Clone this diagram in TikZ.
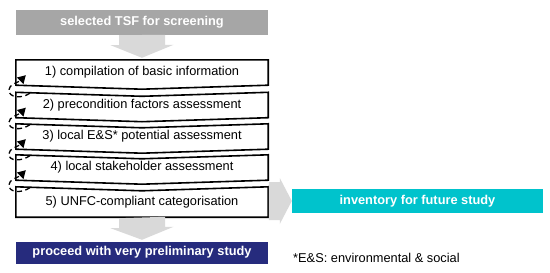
\documentclass[tikz,border=0pt]{standalone}
\usepackage{fontspec}
\setmainfont{Liberation Sans}
\usetikzlibrary{arrows.meta}

\definecolor{tsfgrey}{HTML}{A6A6A6}
\definecolor{arrowgrey}{HTML}{D9D9D9}
\definecolor{tsfcyan}{HTML}{00C3CC}
\definecolor{tsfnavy}{HTML}{262B7D}

\begin{document}
\begin{tikzpicture}[x=1pt,y=-1pt]
\tikzstyle{banner} = [rectangle, fill=tsfgrey, text=white, inner sep=0pt,
font=\bfseries\fontsize{12.8}{15}\selectfont, minimum width=252pt, minimum height=25pt]
\tikzstyle{stepbox} = [rectangle, inner sep=0pt, font=\fontsize{12.8}{15}\selectfont,
minimum width=252pt, minimum height=25pt]
\tikzstyle{outline} = [draw, line width=1.6pt, line join=miter]
\tikzstyle{flow} = [fill=arrowgrey];
\tikzstyle{back} = [draw, dash pattern=on 5pt off 3.5pt, line width=1.3pt,
-{Triangle[length=8pt,width=9pt]}];
\useasboundingbox (0,0) rectangle (550,273);
% input
\node [banner] (tsf) at (142,22.5) {selected TSF for screening};
% screening steps
\node [stepbox] (s1) at (142,72.5) {1) compilation of basic information};
\node [stepbox] (s2) at (142,105) {2) precondition factors assessment};
\node [stepbox] (s3) at (142,136.5) {3) local E\&S* potential assessment};
\node [stepbox] (s4) at (142,167.5) {4) local stakeholder assessment};
\node [stepbox, minimum height=30pt] (s5) at (142,202) {5) UNFC-compliant categorisation};
\draw [outline] (s1.north west) -- (s1.north east) -- (s1.south east)
  -- ([yshift=-4pt]s1.south) -- (s1.south west) -- cycle;
\draw [outline] (s2.north west) -- ([yshift=-4pt]s2.north) -- (s2.north east) -- (s2.south east)
  -- ([yshift=-4pt]s2.south) -- (s2.south west) -- cycle;
\draw [outline] (s3.north west) -- ([yshift=-4pt]s3.north) -- (s3.north east) -- (s3.south east)
  -- ([yshift=-4pt]s3.south) -- (s3.south west) -- cycle;
\draw [outline] (s4.north west) -- ([yshift=-4pt]s4.north) -- (s4.north east) -- (s4.south east)
  -- ([yshift=-4pt]s4.south) -- (s4.south west) -- cycle;
\draw [outline] (s5.north west) -- ([yshift=-4pt]s5.north) -- (s5.north east) -- (s5.south east)
  -- (s5.south west) -- cycle;
% feedback loops
\path [back] ([xshift=14pt,yshift=-1pt]s2.north west) .. controls +(-9,6) and +(0,7) .. ([xshift=-7pt,yshift=-5pt]s1.south west)
  .. controls +(0,-6) and +(-7,7) .. ([xshift=10pt,yshift=10pt]s1.south west);
\path [back] ([xshift=14pt,yshift=-1pt]s3.north west) .. controls +(-9,6) and +(0,7) .. ([xshift=-7pt,yshift=-5pt]s2.south west)
  .. controls +(0,-6) and +(-7,7) .. ([xshift=10pt,yshift=10pt]s2.south west);
\path [back] ([xshift=14pt,yshift=-1pt]s4.north west) .. controls +(-9,6) and +(0,7) .. ([xshift=-7pt,yshift=-5pt]s3.south west)
  .. controls +(0,-6) and +(-7,7) .. ([xshift=10pt,yshift=10pt]s3.south west);
\path [back] ([xshift=14pt,yshift=-1pt]s5.north west) .. controls +(-9,6) and +(0,7) .. ([xshift=-7pt,yshift=-5pt]s4.south west)
  .. controls +(0,-6) and +(-7,7) .. ([xshift=10pt,yshift=10pt]s4.south west);
% outputs
\node [banner, fill=tsfnavy, minimum height=22pt] (study) at (142,252.5) {proceed with very preliminary study};
\node [banner, fill=tsfcyan, minimum width=251pt, minimum height=24pt] (inventory) at (417.5,201) {inventory for future study};
\node [anchor=west, inner sep=0pt, font=\fontsize{12.8}{15}\selectfont] (note) at (293,258) {*E\&S: environmental \& social};
% grey arrows
\path [flow] ([xshift=-23pt]tsf.south) -- ++(0,10) -- ++(-8.5,0) -- ([yshift=2pt]s1.north)
  -- ++(31.5,-13) -- ++(-8.5,0) -- ++(0,-10) -- cycle;
\path [flow] ([xshift=-23pt,yshift=-1pt]s5.south) -- ++(0,10) -- ++(-8.5,0) -- ([yshift=1.5pt]study.north)
  -- ++(31.5,-13) -- ++(-8.5,0) -- ++(0,-10) -- cycle;
\path [flow] ([xshift=-23pt,yshift=19pt]inventory.west) -- ++(11,0) -- ++(0,-4) -- (inventory.west)
  -- ++(-12,23) -- ++(0,-4) -- ++(-11,0) -- cycle;
\end{tikzpicture}
\end{document}
